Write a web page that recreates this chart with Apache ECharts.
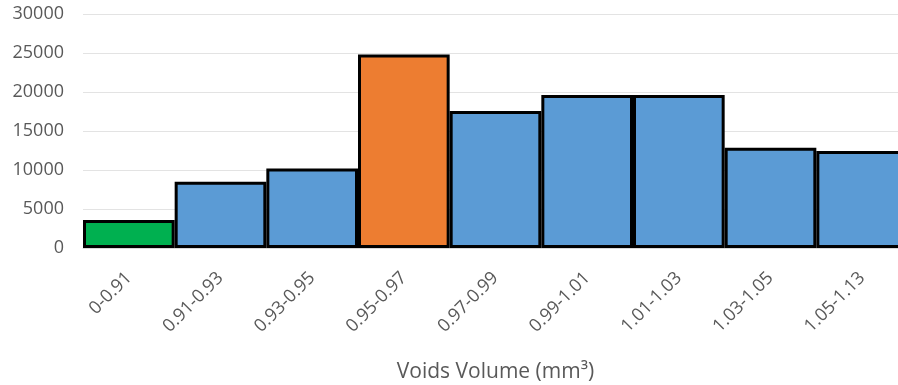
<!DOCTYPE html>
<html>
<head>
<meta charset="utf-8">
<script src="https://cdn.jsdelivr.net/npm/echarts@6/dist/echarts.min.js"></script>
<style>html,body{margin:0;padding:0;background:#fff;}#c{width:898px;height:385px;}</style>
</head>
<body>
<div id="c"></div>
<script>
const categories = ['0-0.91','0.91-0.93','0.93-0.95','0.95-0.97','0.97-0.99','0.99-1.01','1.01-1.03','1.03-1.05','1.05-1.13'];
const values = [3600, 8500, 10200, 24800, 17550, 19600, 19600, 12850, 12450];
const barColors = ['#00B050','#5B9BD5','#5B9BD5','#ED7D31','#5B9BD5','#5B9BD5','#5B9BD5','#5B9BD5','#5B9BD5'];
const xTitle = 'Voids Volume (mm³)';

const chart = echarts.init(document.getElementById('c'), null, {renderer:'canvas'});
chart.setOption({
  animation: false,
  grid: {left: 83, top: 14, width: 825, bottom: 137, containLabel: false, outerBoundsMode: 'none'},
  xAxis: {
    type: 'category',
    data: categories,
    name: xTitle,
    nameLocation: 'middle',
    nameGap: 114,
    nameTextStyle: {color: '#595959', fontSize: 21, fontFamily: 'Open Sans'},
    axisLine: {show: true, lineStyle: {color: '#d9d9d9'}},
    axisTick: {show: false},
    axisLabel: {rotate: 45, margin: 27, color: '#595959', fontSize: 18, fontFamily: 'Open Sans', interval: 0}
  },
  yAxis: {
    type: 'value',
    min: 0, max: 30000, interval: 5000,
    axisLine: {show: false},
    axisTick: {show: false},
    splitLine: {lineStyle: {color: '#e3e3e3', width: 1}},
    axisLabel: {margin: 19, color: '#595959', fontSize: 18, fontFamily: 'Open Sans', formatter: v => String(v)}
  },
  series: [{
    type: 'bar',
    barCategoryGap: '0%',
    data: values.map((v, i) => ({value: v, itemStyle: {color: barColors[i]}})),
    itemStyle: {borderColor: '#000', borderWidth: 3}
  }]
});
</script>
</body>
</html>
